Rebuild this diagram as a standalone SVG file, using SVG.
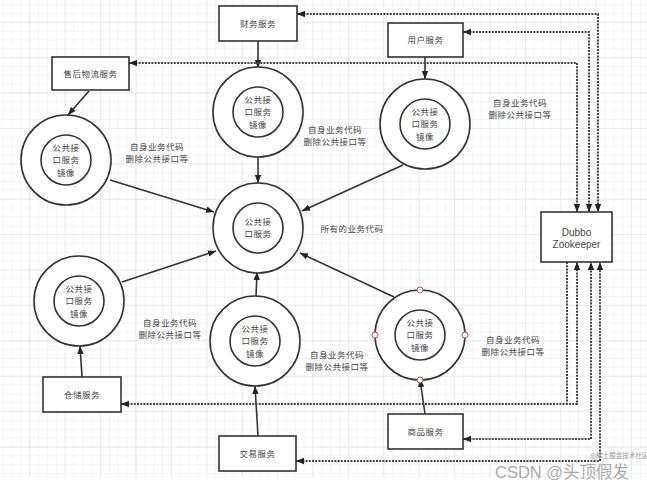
<svg xmlns="http://www.w3.org/2000/svg" width="647" height="489" viewBox="0 0 647 489">
<style>
.box{fill:#fff;stroke:#333;stroke-width:1.6}
.ring{fill:#fff;stroke:#333;stroke-width:1.6}
.t{font-family:"Noto Sans CJK SC","Liberation Sans",sans-serif;font-size:8.5px;letter-spacing:0.5px;fill:#444;text-anchor:middle}
.lt{font-family:"Liberation Sans","Noto Sans CJK SC",sans-serif;font-size:10px;fill:#444;text-anchor:middle}
.solid{fill:none;stroke:#333;stroke-width:1.6;marker-end:url(#ah)}
.dot{fill:none;stroke:#444;stroke-width:2;stroke-dasharray:2 1.2}
.h{fill:#fff;stroke:#c0504d;stroke-width:1}
</style>
<defs>
<marker id="ah" viewBox="0 0 10 10" refX="10" refY="5" markerWidth="8" markerHeight="8" orient="auto-start-reverse" markerUnits="userSpaceOnUse"><path d="M0,1 L10,5 L0,9 z" fill="#222"/></marker>
<pattern id="minor" x="29.3" y="4" width="8.85" height="8.85" patternUnits="userSpaceOnUse"><path d="M0,0 H8.85 M0,0 V8.85" fill="none" stroke="#ebebf0" stroke-width="1"/></pattern>
<pattern id="major" x="29.3" y="21.7" width="35.4" height="35.4" patternUnits="userSpaceOnUse"><path d="M0,0 H35.4 M0,0 V35.4" fill="none" stroke="#e0e0e7" stroke-width="1"/></pattern>
</defs>
<rect width="647" height="489" fill="#fff"/>
<rect width="647" height="478" fill="url(#minor)"/>
<rect width="647" height="478" fill="url(#major)"/>

<g id="connectors">
<path class="solid" d="M258,41 V68"/>
<path class="solid" d="M89,91 L68,115"/>
<path class="solid" d="M425,57 V79"/>
<path class="solid" d="M258,156 V183"/>
<path class="solid" d="M110,180 L214,212"/>
<path class="solid" d="M403,165 L302,211"/>
<path class="solid" d="M122,282 L216,251"/>
<path class="solid" d="M256,297 L257,272"/>
<path class="solid" d="M394,297 L300,253"/>
<path class="solid" d="M82,377 L80,346"/>
<path class="solid" d="M258,436 L255,386"/>
<path class="solid" d="M425,414 L420,379"/>
<path class="dot" d="M297,14 H598 V212" marker-start="url(#ah)" marker-end="url(#ah)"/>
<path class="dot" d="M463,32 H589 V212" marker-start="url(#ah)" marker-end="url(#ah)"/>
<path class="dot" d="M129,63 H577 V212" marker-start="url(#ah)" marker-end="url(#ah)"/>
<path class="dot" d="M121,404 H577 V262" marker-start="url(#ah)" marker-end="url(#ah)"/>
<path class="dot" d="M567,262 V404"/>
<path class="dot" d="M463,439 H591 V262" marker-start="url(#ah)" marker-end="url(#ah)"/>
<path class="dot" d="M296,461 H600 V262" marker-start="url(#ah)" marker-end="url(#ah)"/>
</g>

<g id="caiwu"><rect class="box" x="219" y="6" width="78" height="35"/><text class="t" x="258" y="27">财务服务</text></g>
<g id="shouhou"><rect class="box" x="52" y="57" width="77" height="33"/><text class="t" x="90.5" y="76.5">售后物流服务</text></g>
<g id="yonghu"><rect class="box" x="388" y="23" width="75" height="34"/><text class="t" x="425.5" y="43">用户服务</text></g>
<g id="zookeeper"><rect class="box" x="541" y="212" width="71" height="50"/><text class="lt" x="576.5" y="236">Dubbo</text><text class="lt" x="576.5" y="248">Zookeeper</text></g>
<g id="cangchu"><rect class="box" x="43" y="377" width="78" height="35"/><text class="t" x="82" y="397.5">仓储服务</text></g>
<g id="jiaoyi"><rect class="box" x="219" y="436" width="77" height="35"/><text class="t" x="257.5" y="456.5">交易服务</text></g>
<g id="shangpin"><rect class="box" x="388" y="414" width="75" height="35"/><text class="t" x="425.5" y="434.5">商品服务</text></g>

<g id="mirror-top"><circle class="ring" cx="258" cy="112" r="45"/><circle class="ring" cx="258" cy="112" r="25"/><text class="t" x="258" y="103">公共接</text><text class="t" x="258" y="115.3">口服务</text><text class="t" x="258" y="127.6">镜像</text></g>
<g id="mirror-left"><circle class="ring" cx="66" cy="160" r="45"/><circle class="ring" cx="66" cy="160" r="25"/><text class="t" x="66" y="151">公共接</text><text class="t" x="66" y="163.3">口服务</text><text class="t" x="66" y="175.6">镜像</text></g>
<g id="mirror-right"><circle class="ring" cx="425" cy="124" r="45"/><circle class="ring" cx="425" cy="124" r="25"/><text class="t" x="425" y="115">公共接</text><text class="t" x="425" y="127.3">口服务</text><text class="t" x="425" y="139.6">镜像</text></g>
<g id="center"><circle class="ring" cx="258" cy="228" r="45"/><circle class="ring" cx="258" cy="228" r="25"/><text class="t" x="258" y="225">公共接</text><text class="t" x="258" y="237.3">口服务</text></g>
<g id="mirror-bl"><circle class="ring" cx="79" cy="301" r="45"/><circle class="ring" cx="79" cy="301" r="25"/><text class="t" x="79" y="292">公共接</text><text class="t" x="79" y="304.3">口服务</text><text class="t" x="79" y="316.6">镜像</text></g>
<g id="mirror-bm"><circle class="ring" cx="255" cy="341" r="45"/><circle class="ring" cx="255" cy="341" r="25"/><text class="t" x="255" y="332">公共接</text><text class="t" x="255" y="344.3">口服务</text><text class="t" x="255" y="356.6">镜像</text></g>
<g id="mirror-br"><circle class="ring" cx="420" cy="335" r="45"/><circle class="ring" cx="420" cy="335" r="25"/><text class="t" x="420" y="326">公共接</text><text class="t" x="420" y="338.3">口服务</text><text class="t" x="420" y="350.6">镜像</text>
<circle class="h" cx="420" cy="290" r="3"/><circle class="h" cx="375" cy="335" r="3"/><circle class="h" cx="465" cy="335" r="3"/><circle class="h" cx="420" cy="380" r="3"/></g>

<g id="labels">
<text class="t" x="157" y="149.5">自身业务代码</text><text class="t" x="157" y="161.8">删除公共接口等</text>
<text class="t" x="335" y="132.5">自身业务代码</text><text class="t" x="335" y="144.8">删除公共接口等</text>
<text class="t" x="520" y="105.5">自身业务代码</text><text class="t" x="520" y="117.8">删除公共接口等</text>
<text class="t" x="352" y="231.5">所有的业务代码</text>
<text class="t" x="170" y="325.5">自身业务代码</text><text class="t" x="170" y="337.8">删除公共接口等</text>
<text class="t" x="337" y="357.5">自身业务代码</text><text class="t" x="337" y="369.8">删除公共接口等</text>
<text class="t" x="513" y="342.5">自身业务代码</text><text class="t" x="513" y="354.8">删除公共接口等</text>
</g>
<g id="watermark">
<text x="495" y="478" font-family="Liberation Sans,'Noto Sans CJK SC',sans-serif" font-size="16.5" fill="#aaa">CSDN @头顶假发</text>
<text x="590" y="458" font-family="'Noto Sans CJK SC',sans-serif" font-size="6.5" fill="#999">@稀土掘金技术社区</text>
</g>
</svg>
